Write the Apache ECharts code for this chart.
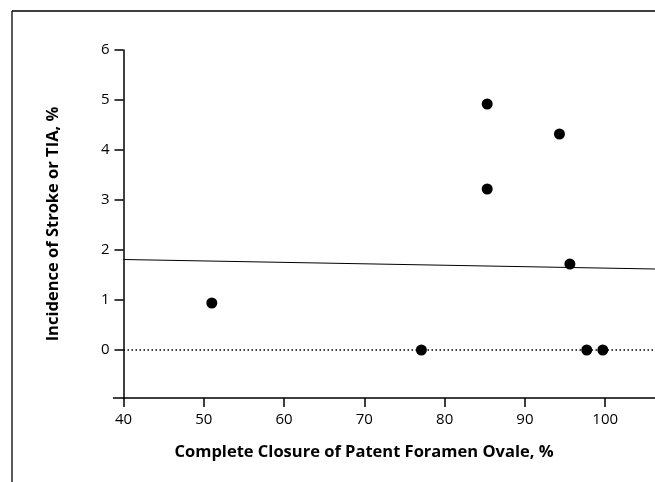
<!DOCTYPE html>
<html>
<head>
<meta charset="utf-8">
<script src="https://cdn.jsdelivr.net/npm/echarts@6/dist/echarts.min.js"></script>
<style>html,body{margin:0;padding:0;background:#fff}#c{width:655px;height:482px}</style>
</head>
<body>
<div id="c"></div>
<script>
var closurePct = [51.0, 77.1, 85.3, 85.3, 94.3, 95.6, 97.7, 99.7];
var incidencePct = [0.94, 0, 4.92, 3.22, 4.32, 1.72, 0, 0];
var fitX = [40, 106.2];
var fitY = [1.81, 1.62];
var zeroX = [40, 106.2];
var zeroY = [0, 0];
var yTicks = [0, 1, 2, 3, 4, 5, 6];
var xTicks = [40, 50, 60, 70, 80, 90, 100];

var FONT = '"Open Sans", "Noto Sans", sans-serif';
var chart = echarts.init(document.getElementById('c'), null, {renderer: 'canvas'});

function pairs(xs, ys) { return xs.map(function (x, i) { return [x, ys[i]]; }); }

chart.setOption({
  animation: false,
  backgroundColor: '#fff',
  grid: {left: 123.5, right: 0, top: 50, bottom: 84, containLabel: false},
  xAxis: {
    type: 'value', min: 40, max: 106.2,
    splitLine: {show: false},
    axisLine: {show: true, onZero: false, lineStyle: {color: '#000', width: 1.5}},
    axisTick: {show: true, length: 9, customValues: xTicks, lineStyle: {color: '#000', width: 1.5}},
    axisLabel: {customValues: xTicks, color: '#000', fontSize: 15, fontFamily: FONT, margin: 14}
  },
  yAxis: {
    type: 'value', min: -0.96, max: 6,
    splitLine: {show: false},
    axisLine: {show: true, onZero: false, lineStyle: {color: '#000', width: 1.5}},
    axisTick: {show: true, length: 9, customValues: yTicks, lineStyle: {color: '#000', width: 1.5}},
    axisLabel: {customValues: yTicks, color: '#000', fontSize: 15, fontFamily: FONT, margin: 14},
    name: 'Incidence of Stroke or TIA, %',
    nameLocation: 'middle', nameGap: 62,
    nameTextStyle: {color: '#000', fontSize: 16.5, fontWeight: 'bold', fontFamily: FONT}
  },
  graphic: [
    {type: 'line', shape: {x1: 12, y1: 11, x2: 655, y2: 11}, style: {stroke: '#000', lineWidth: 1.3}},
    {type: 'line', shape: {x1: 12, y1: 11, x2: 12, y2: 482}, style: {stroke: '#000', lineWidth: 1.3}},
    {type: 'line', shape: {x1: 113, y1: 398, x2: 124, y2: 398}, style: {stroke: '#000', lineWidth: 1.5}},
    {type: 'text', x: 364, y: 452, style: {text: 'Complete Closure of Patent Foramen Ovale, %', fill: '#000', font: 'bold 16.5px ' + FONT, textAlign: 'center', textVerticalAlign: 'middle'}}
  ],
  series: [
    {type: 'line', data: pairs(zeroX, zeroY), symbol: 'none', silent: true,
     lineStyle: {color: '#000', width: 1.5, type: [1.5, 2.5]}, z: 1},
    {type: 'line', data: pairs(fitX, fitY), symbol: 'none', silent: true,
     lineStyle: {color: '#000', width: 1.2}, z: 2},
    {type: 'scatter', data: pairs(closurePct, incidencePct), symbol: 'circle', symbolSize: 11,
     itemStyle: {color: '#000', opacity: 1}, z: 3}
  ]
});
</script>
</body>
</html>
